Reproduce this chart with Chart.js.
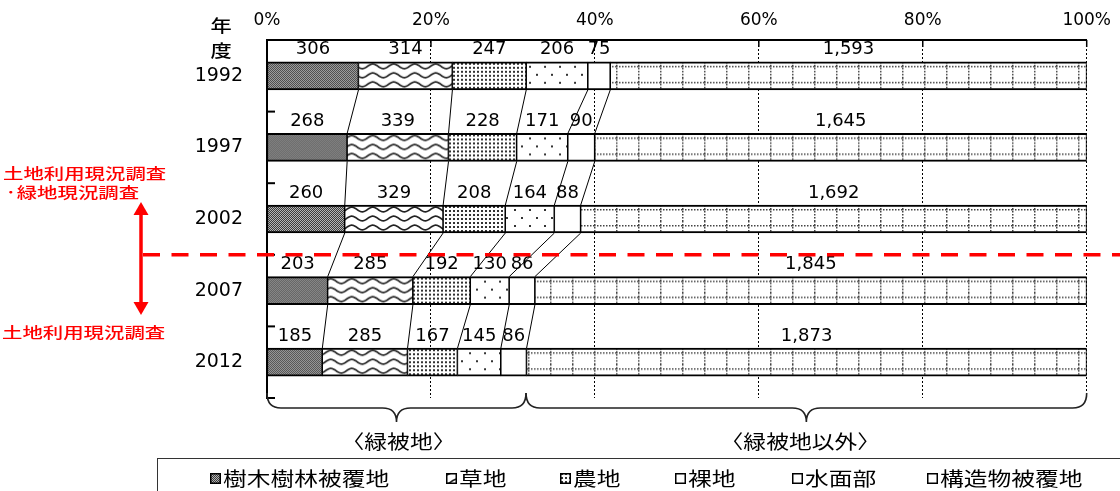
<!DOCTYPE html>
<html>
<head>
<meta charset="utf-8">
<script src="https://cdn.jsdelivr.net/npm/chart.js@4"></script>
<style>
  body { margin: 0; background: #fff; }
  #wrap { width: 1120px; height: 491px; position: relative; }
</style>
</head>
<body>
<div id="wrap"><canvas id="landChart"></canvas></div>
<script>
  // données (ha)
  const years = ['1992', '1997', '2002', '2007', '2012'];
  const treeCover = [306, 268, 260, 203, 185];
  const grassLand = [314, 339, 329, 285, 285];
  const farmLand = [247, 228, 208, 192, 167];
  const bareLand = [206, 171, 164, 130, 145];
  const waterArea = [75, 90, 88, 86, 86];
  const structures = [1593, 1645, 1692, 1845, 1873];
  const seriesNames = ['樹木樹林被覆地', '草地', '農地', '裸地', '水面部', '構造物被覆地'];
  const percentTicks = [0, 20, 40, 60, 80, 100];

  const series = [treeCover, grassLand, farmLand, bareLand, waterArea, structures];
  const totals = years.map((_, j) => series.reduce((s, arr) => s + arr[j], 0));

  // motifs de remplissage
  function tile(w, h, draw) {
    const c = document.createElement('canvas');
    c.width = w; c.height = h;
    const g = c.getContext('2d');
    g.fillStyle = '#fff';
    g.fillRect(0, 0, w, h);
    draw(g);
    return c;
  }
  const tiles = [
    tile(2, 2, g => {
      g.fillStyle = '#3a3a3a'; g.fillRect(0, 0, 1, 1); g.fillRect(1, 1, 1, 1);
      g.fillStyle = '#b4b4b4'; g.fillRect(1, 0, 1, 1); g.fillRect(0, 1, 1, 1);
    }),
    tile(21, 9, g => {
      g.strokeStyle = '#222'; g.lineWidth = 1.7;
      g.beginPath();
      for (let x = -1; x <= 22; x += 0.5) {
        const yy = 4.5 + 2.3 * Math.sin(2 * Math.PI * x / 21);
        x === -1 ? g.moveTo(x, yy) : g.lineTo(x, yy);
      }
      g.stroke();
    }),
    tile(4, 4, g => { g.fillStyle = '#333'; g.fillRect(1, 1, 2, 2); }),
    tile(15, 16, g => {
      g.fillStyle = '#333'; g.fillRect(4, 4, 2, 2); g.fillRect(11, 12, 2, 2);
    }),
    tile(4, 4, g => {}),
    tile(22, 16, g => {
      g.fillStyle = '#444';
      for (let x = 0; x < 22; x += 3) g.fillRect(x, 4, 1.5, 1.5);
      for (let y = 0; y < 16; y += 3) g.fillRect(0, y, 1.5, 1.5);
    })
  ];
  const patCtx = document.createElement('canvas').getContext('2d');
  function patternFor(s, dy) {
    const p = patCtx.createPattern(tiles[s], 'repeat');
    p.setTransform(new DOMMatrix().translate(0, dy));
    return p;
  }

  const BAR_H = 28;

  const overlay = {
    id: 'overlay',
    afterDatasetsDraw(chart) {
      const { ctx, scales: { x, y } } = chart;
      const metas = chart.data.datasets.map((d, i) => chart.getDatasetMeta(i));
      const step = y.getPixelForValue(1) - y.getPixelForValue(0);

      // valeurs au-dessus des segments
      ctx.save();
      ctx.fillStyle = '#000';
      ctx.font = '18px "DejaVu Sans"';
      ctx.textAlign = 'center';
      ctx.textBaseline = 'middle';
      metas.forEach((m, s) => m.data.forEach((bar, j) => {
        const top = bar.y - bar.height / 2;
        ctx.fillText(series[s][j].toLocaleString('en-US'), (bar.x + bar.base) / 2, top - 12);
      }));

      // lignes de liaison entre années
      ctx.strokeStyle = '#000';
      ctx.lineWidth = 1;
      for (let j = 0; j < years.length - 1; j++) {
        for (let s = 0; s < metas.length - 1; s++) {
          const a = metas[s].data[j], b = metas[s].data[j + 1];
          ctx.beginPath();
          ctx.moveTo(a.x, a.y + a.height / 2);
          ctx.lineTo(b.x, b.y - b.height / 2);
          ctx.stroke();
        }
      }

      // petites graduations
      ctx.lineWidth = 2;
      years.forEach((_, j) => {
        const yb = y.getPixelForValue(j) + step / 2;
        ctx.beginPath(); ctx.moveTo(x.left, yb); ctx.lineTo(x.left + 8, yb); ctx.stroke();
      });
      ctx.lineWidth = 1.5;
      percentTicks.slice(1).forEach(v => {
        const px = x.getPixelForValue(v);
        ctx.beginPath(); ctx.moveTo(px, y.top); ctx.lineTo(px, y.top + 7); ctx.stroke();
      });

      // accolades
      const braceY = y.bottom - 5, midY = braceY + 15, tipY = braceY + 29;
      function brace(x0, x1) {
        const xm = (x0 + x1) / 2;
        ctx.beginPath();
        ctx.moveTo(x0, braceY);
        ctx.quadraticCurveTo(x0, midY, x0 + 14, midY);
        ctx.lineTo(xm - 14, midY);
        ctx.quadraticCurveTo(xm, midY, xm, tipY);
        ctx.quadraticCurveTo(xm, midY, xm + 14, midY);
        ctx.lineTo(x1 - 14, midY);
        ctx.quadraticCurveTo(x1, midY, x1, braceY);
        ctx.stroke();
        return xm;
      }
      ctx.lineWidth = 1.6;
      ctx.strokeStyle = '#222';
      const split = x.getPixelForValue(31.6);
      const m1 = brace(x.left, split);
      const m2 = brace(split, x.right);

      function wideText(txt, px, py, size, sx, align, color, weight) {
        ctx.save();
        ctx.translate(px, py);
        ctx.scale(sx, 1);
        ctx.font = (weight || 'normal') + ' ' + size + 'px "Noto Sans CJK JP"';
        ctx.fillStyle = color;
        ctx.textAlign = align;
        ctx.textBaseline = 'middle';
        ctx.fillText(txt, 0, 0);
        ctx.restore();
      }
      wideText('〈緑被地〉', m1 + 2, 442, 19, 1.2, 'center', '#000');
      wideText('〈緑被地以外〉', m2 - 6, 442, 19, 1.2, 'center', '#000');

      // 年度
      wideText('年', x.left - 46, 26, 17, 1.25, 'center', '#000', 500);
      wideText('度', x.left - 46, 51, 17, 1.25, 'center', '#000', 500);

      // légende
      ctx.strokeStyle = '#333';
      ctx.lineWidth = 1;
      ctx.strokeRect(157.5, 458.5, 1000, 60);
      const legendX = [210, 446, 560, 675, 792, 927];
      chart.data.datasets.forEach((d, s) => {
        const lx = legendX[s];
        ctx.fillStyle = patternFor(s, 0);
        ctx.fillRect(lx, 473, 11, 11);
        ctx.strokeStyle = '#000';
        ctx.lineWidth = 1.5;
        ctx.strokeRect(lx + 0.75, 473.75, 9.5, 9.5);
        wideText(d.label, lx + 13, 478.5, 19, 1.25, 'left', '#000');
      });

      // annotation rouge
      const red = '#ff0000';
      const splitY = (y.getPixelForValue(2) + y.getPixelForValue(3)) / 2;
      ctx.strokeStyle = red;
      ctx.lineWidth = 3.5;
      ctx.setLineDash([17, 11.5]);
      ctx.beginPath(); ctx.moveTo(143, splitY); ctx.lineTo(1120, splitY); ctx.stroke();
      ctx.setLineDash([]);
      const ax = 141, aTop = 202, aBot = 315;
      ctx.beginPath(); ctx.moveTo(ax, aTop + 10); ctx.lineTo(ax, aBot - 10); ctx.stroke();
      ctx.fillStyle = red;
      ctx.beginPath(); ctx.moveTo(ax, aTop); ctx.lineTo(ax - 7.5, aTop + 13); ctx.lineTo(ax + 7.5, aTop + 13); ctx.closePath(); ctx.fill();
      ctx.beginPath(); ctx.moveTo(ax, aBot); ctx.lineTo(ax - 7.5, aBot - 13); ctx.lineTo(ax + 7.5, aBot - 13); ctx.closePath(); ctx.fill();
      wideText('土地利用現況調査', 3, 173, 15, 1.36, 'left', red, 500);
      wideText('·緑地現況調査', 5, 192, 15, 1.36, 'left', red, 500);
      wideText('土地利用現況調査', 2, 332, 15, 1.36, 'left', red, 500);
      ctx.restore();
    }
  };

  const ctx = document.getElementById('landChart').getContext('2d');
  const landChart = new Chart(ctx, {
    type: 'bar',
    data: {
      labels: years,
      datasets: series.map((arr, s) => ({
        label: seriesNames[s],
        data: arr.map((v, j) => v / totals[j] * 100),
        backgroundColor: c => {
          const yy = c.chart.scales && c.chart.scales.y;
          const top = yy ? yy.getPixelForValue(c.dataIndex) - BAR_H / 2 : 0;
          return patternFor(s, top);
        },
        borderColor: '#000',
        borderWidth: { top: 2, bottom: 2, left: 1, right: 1.2 },
        borderSkipped: false,
        barThickness: BAR_H
      }))
    },
    options: {
      indexAxis: 'y',
      responsive: true,
      maintainAspectRatio: false,
      animation: false,
      layout: { padding: { left: 0, right: 25, top: 0, bottom: 93 } },
      plugins: { legend: { display: false }, tooltip: { enabled: false } },
      scales: {
        x: {
          position: 'top',
          stacked: true,
          min: 0, max: 100,
          afterFit: scale => { scale.height = 40; },
          afterBuildTicks: scale => { scale.ticks = percentTicks.map(v => ({ value: v })); },
          ticks: {
            callback: v => v + '%',
            color: '#000',
            padding: 9,
            maxRotation: 0,
            font: { family: 'DejaVu Sans', size: 17 }
          },
          grid: {
            drawTicks: false,
            color: c => (c.tick && c.tick.value === 0 ? 'rgba(0,0,0,0)' : '#000'),
            lineWidth: 1
          },
          border: { display: true, color: '#000', width: 2, dash: [2, 2] }
        },
        y: {
          stacked: true,
          afterFit: scale => { scale.width = 267; },
          ticks: {
            color: '#000',
            padding: 16,
            font: { family: 'DejaVu Sans', size: 19 }
          },
          grid: { display: false },
          border: { display: true, color: '#000', width: 2 }
        }
      }
    },
    plugins: [overlay]
  });
</script>
</body>
</html>
